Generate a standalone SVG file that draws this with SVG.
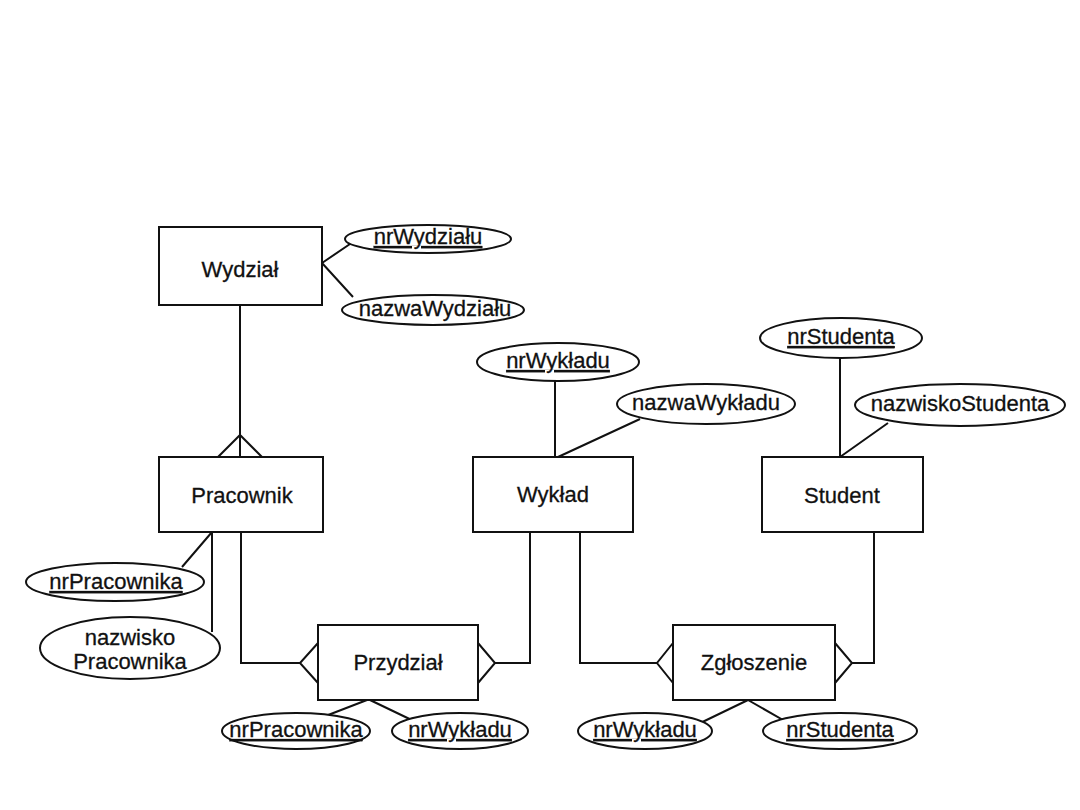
<svg xmlns="http://www.w3.org/2000/svg" width="1080" height="810" viewBox="0 0 1080 810">
<style>
.box{fill:#fff;stroke:#111;stroke-width:2}
.ell{fill:#fff;stroke:#111;stroke-width:2}
.ln{fill:none;stroke:#111;stroke-width:2}
text{font-family:"Liberation Sans",Arial,sans-serif;font-size:22px;fill:#111;stroke:#111;stroke-width:0.3;text-anchor:middle}
.u{text-decoration:underline}
</style>
<rect width="1080" height="810" fill="#fff"/>
<g id="connectors">
<path class="ln" d="M322,263 L350,244 M322,263 L353,297"/>
<path class="ln" d="M240,305 L240,457 M218,457 L240,435 L262,457"/>
<path class="ln" d="M212,532 L182,567 M212,532 L212,632"/>
<path class="ln" d="M241,532 L241,663 L300,663 M318,643 L300,663 L318,683"/>
<path class="ln" d="M530,532 L530,663 L495,663 M478,643 L495,663 L478,683"/>
<path class="ln" d="M555,381 L555,457 M640,419 L558,457"/>
<path class="ln" d="M580,532 L580,663 L657,663 M673,643 L657,663 L673,683"/>
<path class="ln" d="M874,532 L874,663 L852,663 M835,643 L852,663 L835,683"/>
<path class="ln" d="M840,358 L840,457 M888,423 L840,457"/>
<path class="ln" d="M367,700 L310,722 M370,700 L420,724"/>
<path class="ln" d="M748,700 L690,728 M748,700 L790,724"/>
</g>
<g id="wydzial"><rect class="box" x="159" y="227" width="163" height="78"/><text x="240" y="277">Wydział</text></g>
<g id="nrWydzialu"><ellipse class="ell" cx="428" cy="239" rx="83" ry="14"/><text class="u" x="428" y="244">nrWydziału</text></g>
<g id="nazwaWydzialu"><ellipse class="ell" cx="433" cy="310" rx="91" ry="15"/><text x="435" y="316">nazwaWydziału</text></g>
<g id="pracownik"><rect class="box" x="159" y="457" width="164" height="75"/><text x="242" y="503">Pracownik</text></g>
<g id="nrPracownika"><ellipse class="ell" cx="115" cy="582" rx="89" ry="19"/><text class="u" x="116" y="589">nrPracownika</text></g>
<g id="nazwiskoPracownika"><ellipse class="ell" cx="130" cy="648" rx="90" ry="31"/><text x="130" y="645">nazwisko</text><text x="130" y="669">Pracownika</text></g>
<g id="wyklad"><rect class="box" x="473" y="457" width="160" height="75"/><text x="553" y="502">Wykład</text></g>
<g id="nrWykladu"><ellipse class="ell" cx="558" cy="362" rx="81" ry="19"/><text class="u" x="558" y="368">nrWykładu</text></g>
<g id="nazwaWykladu"><ellipse class="ell" cx="706" cy="404" rx="89" ry="20"/><text x="706" y="410">nazwaWykładu</text></g>
<g id="student"><rect class="box" x="762" y="457" width="161" height="75"/><text x="842" y="503">Student</text></g>
<g id="nrStudenta"><ellipse class="ell" cx="841" cy="338" rx="81" ry="20"/><text class="u" x="841" y="344">nrStudenta</text></g>
<g id="nazwiskoStudenta"><ellipse class="ell" cx="960" cy="405" rx="105" ry="21"/><text x="960" y="411">nazwiskoStudenta</text></g>
<g id="przydzial"><rect class="box" x="318" y="625" width="160" height="75"/><text x="398" y="670">Przydział</text></g>
<g id="zgloszenie"><rect class="box" x="673" y="625" width="162" height="75"/><text x="754" y="670">Zgłoszenie</text></g>
<g id="p_nrPracownika"><ellipse class="ell" cx="296" cy="731" rx="74" ry="18"/><text class="u" x="296" y="737">nrPracownika</text></g>
<g id="p_nrWykladu"><ellipse class="ell" cx="460" cy="731" rx="68" ry="18"/><text class="u" x="460" y="737">nrWykładu</text></g>
<g id="z_nrWykladu"><ellipse class="ell" cx="645" cy="731" rx="67" ry="18"/><text class="u" x="645" y="737">nrWykładu</text></g>
<g id="z_nrStudenta"><ellipse class="ell" cx="840" cy="731" rx="77" ry="18"/><text class="u" x="840" y="737">nrStudenta</text></g>
</svg>
